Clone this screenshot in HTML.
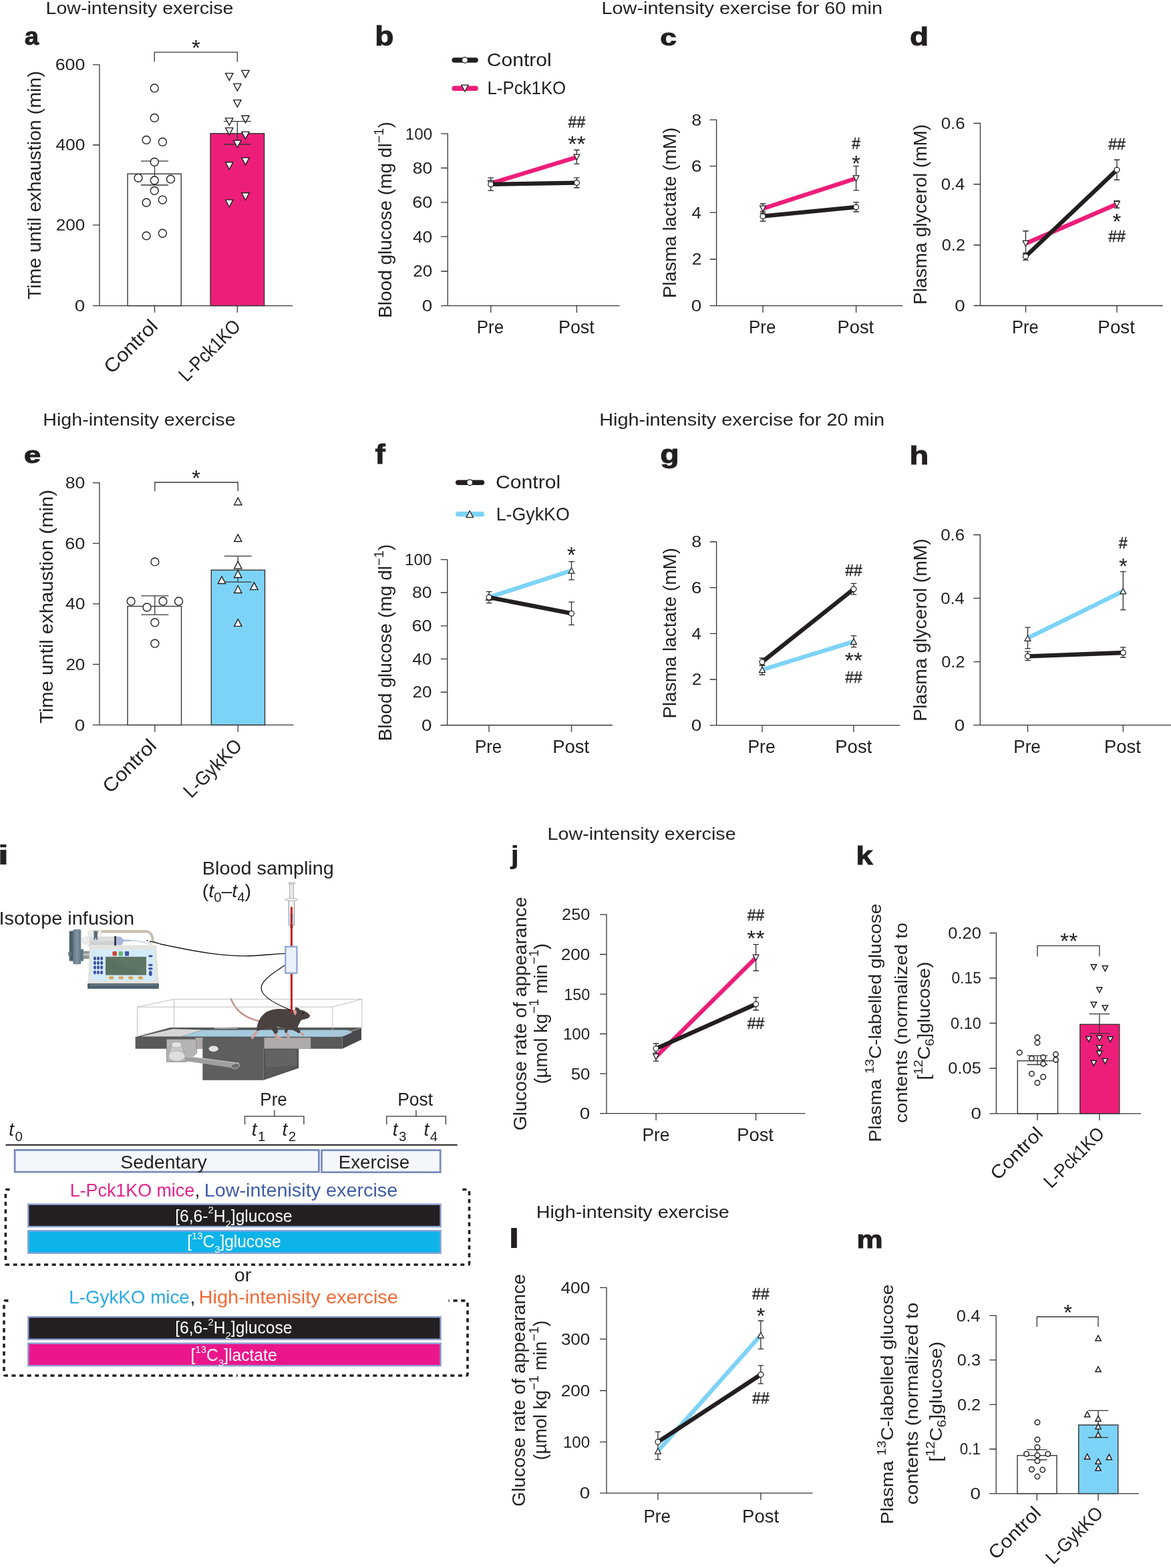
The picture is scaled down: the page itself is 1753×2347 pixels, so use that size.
<!DOCTYPE html>
<html lang="en"><head><meta charset="utf-8"><title>Figure</title>
<style>
html,body{margin:0;padding:0;background:#fff}
svg{display:block}
text{font-family:"Liberation Sans",sans-serif}
</style></head><body>
<svg width="1753" height="2347" viewBox="0 0 1753 2347">
<rect width="1753" height="2347" fill="#fff"/>
<g fill="#231f20">
<text x="68.5" y="21" font-size="25.3" textLength="281" lengthAdjust="spacingAndGlyphs">Low-intensity exercise</text>
<text x="900.5" y="20.5" font-size="25.3" textLength="420.5" lengthAdjust="spacingAndGlyphs">Low-intensity exercise for 60 min</text>
<text x="64.2" y="637" font-size="25.3" textLength="288.4" lengthAdjust="spacingAndGlyphs">High-intensity exercise</text>
<text x="897.2" y="637.3" font-size="25.3" textLength="427" lengthAdjust="spacingAndGlyphs">High-intensity exercise for 20 min</text>
<text x="819.6" y="1257" font-size="25.3" textLength="282" lengthAdjust="spacingAndGlyphs">Low-intensity exercise</text>
<text x="802.7" y="1823.3" font-size="25.3" textLength="289" lengthAdjust="spacingAndGlyphs">High-intensity exercise</text>
<text x="36.66" y="67.43" font-size="37.08" textLength="21.2" lengthAdjust="spacingAndGlyphs" font-weight="700" stroke="#231f20" stroke-width="1.0">a</text>
<text x="561.2" y="68.2" font-size="39.73" textLength="28.18" lengthAdjust="spacingAndGlyphs" font-weight="700" stroke="#231f20" stroke-width="1.0">b</text>
<text x="988.23" y="68.25" font-size="34.7" textLength="24.64" lengthAdjust="spacingAndGlyphs" font-weight="700" stroke="#231f20" stroke-width="1.0">c</text>
<text x="1361.91" y="67.82" font-size="38.37" textLength="28.12" lengthAdjust="spacingAndGlyphs" font-weight="700" stroke="#231f20" stroke-width="1.0">d</text>
<text x="35.99" y="693.46" font-size="34.34" textLength="25.13" lengthAdjust="spacingAndGlyphs" font-weight="700" stroke="#231f20" stroke-width="1.0">e</text>
<text x="561.6" y="694.2" font-size="39.86" textLength="15.21" lengthAdjust="spacingAndGlyphs" font-weight="700" stroke="#231f20" stroke-width="1.0">f</text>
<text x="988.15" y="693.43" font-size="38.93" textLength="28.31" lengthAdjust="spacingAndGlyphs" font-weight="700" stroke="#231f20" stroke-width="1.0">g</text>
<text x="1361.5" y="694.5" font-size="39.59" textLength="28.76" lengthAdjust="spacingAndGlyphs" font-weight="700" stroke="#231f20" stroke-width="1.0">h</text>
<text x="-4.33" y="1294.1" font-size="41.24" textLength="18.39" lengthAdjust="spacingAndGlyphs" font-weight="700">i</text>
<text x="764.3" y="1292.83" font-size="39.36" textLength="12.99" lengthAdjust="spacingAndGlyphs" font-weight="700">j</text>
<text x="1281.63" y="1293.9" font-size="39.31" textLength="25.21" lengthAdjust="spacingAndGlyphs" font-weight="700" stroke="#231f20" stroke-width="1.0">k</text>
<text x="760.67" y="1868.4" font-size="40.55" textLength="17.58" lengthAdjust="spacingAndGlyphs" font-weight="700">l</text>
<text x="1282.54" y="1868.1" font-size="36.65" textLength="39.18" lengthAdjust="spacingAndGlyphs" font-weight="700" stroke="#231f20" stroke-width="1.0">m</text>
<path d="M148.9 96.25V457.6M138.9 457.6H438M138.9 96.9H148.9M138.9 217H148.9M138.9 336.9H148.9M231.5 457.6V467.9M355.3 457.6V467.9" fill="none" stroke="#353535" stroke-width="1.3"/>
<text x="127.33" y="105.39" font-size="24.6" text-anchor="end" textLength="44.67" lengthAdjust="spacingAndGlyphs">600</text>
<text x="127.31" y="225.49" font-size="24.6" text-anchor="end" textLength="43.91" lengthAdjust="spacingAndGlyphs">400</text>
<text x="127.3" y="345.39" font-size="24.6" text-anchor="end" textLength="43.51" lengthAdjust="spacingAndGlyphs">200</text>
<text x="127.38" y="466.09" font-size="24.6" text-anchor="end" textLength="15.49" lengthAdjust="spacingAndGlyphs">0</text>
<rect x="191" y="260.3" width="80.2" height="197.3" fill="#fff" stroke="#353535" stroke-width="1.4"/>
<rect x="315" y="199.8" width="80.6" height="257.8" fill="#ed1e79" stroke="#353535" stroke-width="1.4"/>
<path d="M211 241.2H252M211 277H252M231.5 241.2V277" fill="none" stroke="#353535" stroke-width="1.3"/>
<path d="M334.8 181.6H375.8M334.8 216H375.8M355.3 181.6V216" fill="none" stroke="#353535" stroke-width="1.3"/>
<circle cx="231.23" cy="131.96" r="5.95" fill="#fff" stroke="#231f20" stroke-width="1.4"/>
<circle cx="231.23" cy="176.45" r="5.95" fill="#fff" stroke="#231f20" stroke-width="1.4"/>
<circle cx="219.13" cy="209.44" r="5.95" fill="#fff" stroke="#231f20" stroke-width="1.4"/>
<circle cx="243.34" cy="212.47" r="5.95" fill="#fff" stroke="#231f20" stroke-width="1.4"/>
<circle cx="231.23" cy="242.43" r="5.95" fill="#fff" stroke="#231f20" stroke-width="1.4"/>
<circle cx="207.02" cy="266.34" r="5.95" fill="#fff" stroke="#231f20" stroke-width="1.4"/>
<circle cx="231.23" cy="269.98" r="5.95" fill="#fff" stroke="#231f20" stroke-width="1.4"/>
<circle cx="255.45" cy="268.16" r="5.95" fill="#fff" stroke="#231f20" stroke-width="1.4"/>
<circle cx="231.23" cy="285.41" r="5.95" fill="#fff" stroke="#231f20" stroke-width="1.4"/>
<circle cx="219.13" cy="303.27" r="5.95" fill="#fff" stroke="#231f20" stroke-width="1.4"/>
<circle cx="243.34" cy="299.03" r="5.95" fill="#fff" stroke="#231f20" stroke-width="1.4"/>
<circle cx="219.13" cy="352.91" r="5.95" fill="#fff" stroke="#231f20" stroke-width="1.4"/>
<circle cx="243.34" cy="349.27" r="5.95" fill="#fff" stroke="#231f20" stroke-width="1.4"/>
<polygon points="337.57,109.64 348.87,109.64 343.22,120.38" fill="#fff" stroke="#231f20" stroke-width="1.4" stroke-linejoin="miter"/>
<polygon points="361.78,105.41 373.08,105.41 367.43,116.14" fill="#fff" stroke="#231f20" stroke-width="1.4" stroke-linejoin="miter"/>
<polygon points="349.68,125.38 360.98,125.38 355.33,136.12" fill="#fff" stroke="#231f20" stroke-width="1.4" stroke-linejoin="miter"/>
<polygon points="349.68,149.6 360.98,149.6 355.33,160.33" fill="#fff" stroke="#231f20" stroke-width="1.4" stroke-linejoin="miter"/>
<polygon points="337.57,176.84 348.87,176.84 343.22,187.57" fill="#fff" stroke="#231f20" stroke-width="1.4" stroke-linejoin="miter"/>
<polygon points="361.78,173.2 373.08,173.2 367.43,183.94" fill="#fff" stroke="#231f20" stroke-width="1.4" stroke-linejoin="miter"/>
<polygon points="337.57,191.36 348.87,191.36 343.22,202.1" fill="#fff" stroke="#231f20" stroke-width="1.4" stroke-linejoin="miter"/>
<polygon points="361.78,197.42 373.08,197.42 367.43,208.15" fill="#fff" stroke="#231f20" stroke-width="1.4" stroke-linejoin="miter"/>
<polygon points="349.68,210.13 360.98,210.13 355.33,220.86" fill="#fff" stroke="#231f20" stroke-width="1.4" stroke-linejoin="miter"/>
<polygon points="337.57,242.82 348.87,242.82 343.22,253.55" fill="#fff" stroke="#231f20" stroke-width="1.4" stroke-linejoin="miter"/>
<polygon points="361.78,236.16 373.08,236.16 367.43,246.89" fill="#fff" stroke="#231f20" stroke-width="1.4" stroke-linejoin="miter"/>
<polygon points="337.57,299.11 348.87,299.11 343.22,309.85" fill="#fff" stroke="#231f20" stroke-width="1.4" stroke-linejoin="miter"/>
<polygon points="361.78,288.82 373.08,288.82 367.43,299.56" fill="#fff" stroke="#231f20" stroke-width="1.4" stroke-linejoin="miter"/>
<path d="M231.2 92.6V78.1H355.3V92.6" fill="none" stroke="#353535" stroke-width="1.3"/>
<text x="293.5" y="83.21" font-size="33" text-anchor="middle">*</text>
<text font-size="27.4" text-anchor="middle" textLength="342" lengthAdjust="spacingAndGlyphs" transform="translate(61.2 277.3) rotate(-90)">Time until exhaustion (min)</text>
<text font-size="29" text-anchor="end" textLength="100" lengthAdjust="spacingAndGlyphs" transform="translate(238 490) rotate(-45)">Control</text>
<text font-size="29" text-anchor="end" textLength="117" lengthAdjust="spacingAndGlyphs" transform="translate(362 490) rotate(-45)">L-Pck1KO</text>
<path d="M148.9 721.95V1085.2M138.9 1085.2H439.5M138.9 722.6H148.9M138.9 813.4H148.9M138.9 903.9H148.9M138.9 994.4H148.9M231.8 1085.2V1095.5M356.2 1085.2V1095.5" fill="none" stroke="#353535" stroke-width="1.3"/>
<text x="127.36" y="731.09" font-size="24.6" text-anchor="end" textLength="29.48" lengthAdjust="spacingAndGlyphs">80</text>
<text x="127.38" y="821.89" font-size="24.6" text-anchor="end" textLength="30.13" lengthAdjust="spacingAndGlyphs">60</text>
<text x="127.35" y="912.39" font-size="24.6" text-anchor="end" textLength="29.34" lengthAdjust="spacingAndGlyphs">40</text>
<text x="127.34" y="1002.89" font-size="24.6" text-anchor="end" textLength="28.94" lengthAdjust="spacingAndGlyphs">20</text>
<text x="127.38" y="1093.69" font-size="24.6" text-anchor="end" textLength="15.49" lengthAdjust="spacingAndGlyphs">0</text>
<rect x="191" y="907.5" width="80.5" height="177.7" fill="#fff" stroke="#353535" stroke-width="1.4"/>
<rect x="316.3" y="853.3" width="80.2" height="231.9" fill="#7dd3f7" stroke="#353535" stroke-width="1.4"/>
<path d="M211.3 891.8H252.3M211.3 920.2H252.3M231.8 891.8V920.2" fill="none" stroke="#353535" stroke-width="1.3"/>
<path d="M335.7 832.4H376.7M335.7 871.2H376.7M356.2 832.4V871.2" fill="none" stroke="#353535" stroke-width="1.3"/>
<circle cx="231.84" cy="840.92" r="5.95" fill="#fff" stroke="#231f20" stroke-width="1.4"/>
<circle cx="196.13" cy="899.94" r="5.95" fill="#fff" stroke="#231f20" stroke-width="1.4"/>
<circle cx="243.95" cy="899.94" r="5.95" fill="#fff" stroke="#231f20" stroke-width="1.4"/>
<circle cx="267.55" cy="899.94" r="5.95" fill="#fff" stroke="#231f20" stroke-width="1.4"/>
<circle cx="220.04" cy="909.02" r="5.95" fill="#fff" stroke="#231f20" stroke-width="1.4"/>
<circle cx="231.84" cy="931.72" r="5.95" fill="#fff" stroke="#231f20" stroke-width="1.4"/>
<circle cx="231.84" cy="963.2" r="5.95" fill="#fff" stroke="#231f20" stroke-width="1.4"/>
<polygon points="350.58,755.79 361.88,755.79 356.23,745.06" fill="#fff" stroke="#231f20" stroke-width="1.4" stroke-linejoin="miter"/>
<polygon points="350.58,810.57 361.88,810.57 356.23,799.84" fill="#fff" stroke="#231f20" stroke-width="1.4" stroke-linejoin="miter"/>
<polygon points="350.58,851.13 361.88,851.13 356.23,840.4" fill="#fff" stroke="#231f20" stroke-width="1.4" stroke-linejoin="miter"/>
<polygon points="350.58,864.45 361.88,864.45 356.23,853.71" fill="#fff" stroke="#231f20" stroke-width="1.4" stroke-linejoin="miter"/>
<polygon points="326.37,873.53 337.67,873.53 332.02,862.79" fill="#fff" stroke="#231f20" stroke-width="1.4" stroke-linejoin="miter"/>
<polygon points="374.8,882.61 386.1,882.61 380.45,871.87" fill="#fff" stroke="#231f20" stroke-width="1.4" stroke-linejoin="miter"/>
<polygon points="350.58,887.45 361.88,887.45 356.23,876.71" fill="#fff" stroke="#231f20" stroke-width="1.4" stroke-linejoin="miter"/>
<polygon points="350.58,937.39 361.88,937.39 356.23,926.65" fill="#fff" stroke="#231f20" stroke-width="1.4" stroke-linejoin="miter"/>
<path d="M231.8 735.3V722H356.2V735.3" fill="none" stroke="#353535" stroke-width="1.3"/>
<text x="293.6" y="727.41" font-size="33" text-anchor="middle">*</text>
<text font-size="27.4" text-anchor="middle" textLength="350" lengthAdjust="spacingAndGlyphs" transform="translate(78.5 908) rotate(-90)">Time until exhaustion (min)</text>
<text font-size="29" text-anchor="end" textLength="100" lengthAdjust="spacingAndGlyphs" transform="translate(236 1118) rotate(-45)">Control</text>
<text font-size="29" text-anchor="end" textLength="110" lengthAdjust="spacingAndGlyphs" transform="translate(364 1118) rotate(-45)">L-GykKO</text>
<line x1="680.2" y1="90" x2="712" y2="90" stroke="#231f20" stroke-width="7.6" stroke-linecap="round"/>
<circle cx="695.9" cy="90" r="4.4" fill="#fff" stroke="#231f20" stroke-width="1.25"/>
<text x="728.7" y="98.7" font-size="28.3" textLength="97" lengthAdjust="spacingAndGlyphs">Control</text>
<line x1="680.2" y1="132.2" x2="712" y2="132.2" stroke="#ed1e79" stroke-width="7.6" stroke-linecap="round"/>
<polygon points="690.75,127.31 701.05,127.31 695.9,137.09" fill="#fff" stroke="#231f20" stroke-width="1.25" stroke-linejoin="miter"/>
<text x="729.5" y="140.6" font-size="28.3" textLength="117.7" lengthAdjust="spacingAndGlyphs">L-Pck1KO</text>
<line x1="685.8" y1="722.2" x2="721.4" y2="722.2" stroke="#231f20" stroke-width="7.6" stroke-linecap="round"/>
<circle cx="703.2" cy="722.2" r="4.4" fill="#fff" stroke="#231f20" stroke-width="1.25"/>
<text x="741.9" y="731.1" font-size="28.3" textLength="97.4" lengthAdjust="spacingAndGlyphs">Control</text>
<line x1="685.8" y1="769.5" x2="721.4" y2="769.5" stroke="#7dd3f7" stroke-width="7.6" stroke-linecap="round"/>
<polygon points="698.05,774.39 708.35,774.39 703.2,764.61" fill="#fff" stroke="#231f20" stroke-width="1.25" stroke-linejoin="miter"/>
<text x="742.7" y="778.9" font-size="28.3" textLength="110.1" lengthAdjust="spacingAndGlyphs">L-GykKO</text>
<path d="M670.2 199.45V457.7M660.2 457.7H927.7M660.2 200.1H670.2M660.2 251.5H670.2M660.2 302.8H670.2M660.2 354.2H670.2M660.2 406H670.2M734.8 457.7V468M863.4 457.7V468" fill="none" stroke="#353535" stroke-width="1.3"/>
<text x="647.13" y="208.59" font-size="24.6" text-anchor="end" textLength="40.34" lengthAdjust="spacingAndGlyphs">100</text>
<text x="647.26" y="259.99" font-size="24.6" text-anchor="end" textLength="29.48" lengthAdjust="spacingAndGlyphs">80</text>
<text x="647.28" y="311.29" font-size="24.6" text-anchor="end" textLength="30.13" lengthAdjust="spacingAndGlyphs">60</text>
<text x="647.25" y="362.69" font-size="24.6" text-anchor="end" textLength="29.34" lengthAdjust="spacingAndGlyphs">40</text>
<text x="647.24" y="414.49" font-size="24.6" text-anchor="end" textLength="28.94" lengthAdjust="spacingAndGlyphs">20</text>
<text x="647.28" y="466.19" font-size="24.6" text-anchor="end" textLength="15.49" lengthAdjust="spacingAndGlyphs">0</text>
<path d="M730.55 266.2H739.05M730.55 285.3H739.05M734.8 266.2V285.3" fill="none" stroke="#2b2b2b" stroke-width="1.3"/>
<path d="M859.15 266.2H867.65M859.15 281H867.65M863.4 266.2V281" fill="none" stroke="#2b2b2b" stroke-width="1.3"/>
<path d="M859.15 224.5H867.65M859.15 245.4H867.65M863.4 224.5V245.4" fill="none" stroke="#2b2b2b" stroke-width="1.3"/>
<line x1="734.8" y1="274.6" x2="863.4" y2="235.2" stroke="#ed1e79" stroke-width="6.3"/>
<line x1="734.8" y1="275.9" x2="863.4" y2="273.6" stroke="#231f20" stroke-width="6.3"/>
<polygon points="730.4,270.42 739.2,270.42 734.8,278.78" fill="#fff" stroke="#231f20" stroke-width="1.25" stroke-linejoin="miter"/>
<polygon points="859,231.02 867.8,231.02 863.4,239.38" fill="#fff" stroke="#231f20" stroke-width="1.25" stroke-linejoin="miter"/>
<circle cx="734.8" cy="275.9" r="3.95" fill="#fff" stroke="#231f20" stroke-width="1.25"/>
<circle cx="863.4" cy="273.6" r="3.95" fill="#fff" stroke="#231f20" stroke-width="1.25"/>
<text x="863.4" y="191" font-size="23.4" text-anchor="middle" textLength="25.6" lengthAdjust="spacingAndGlyphs" stroke="#231f20" stroke-width="0.35">##</text>
<text x="863.4" y="227.11" font-size="33" text-anchor="middle" textLength="26.44" lengthAdjust="spacingAndGlyphs">**</text>
<text x="713.71" y="499" font-size="27.6" textLength="40.55" lengthAdjust="spacingAndGlyphs">Pre</text>
<text x="835.94" y="499" font-size="27.6" textLength="53.82" lengthAdjust="spacingAndGlyphs">Post</text>
<text font-size="27.4" text-anchor="middle" textLength="293.7" lengthAdjust="spacingAndGlyphs" transform="translate(586 329.1) rotate(-90)">Blood glucose (mg dl<tspan font-size="19.5" dy="-12.3">−1</tspan><tspan dy="12.3">)</tspan></text>
<path d="M1072.6 178.65V457.7M1062.6 457.7H1351M1062.6 179.3H1072.6M1062.6 248.7H1072.6M1062.6 318.1H1072.6M1062.6 388H1072.6M1142 457.7V468M1281.6 457.7V468" fill="none" stroke="#353535" stroke-width="1.3"/>
<text x="1050.38" y="187.79" font-size="24.6" text-anchor="end" textLength="15.03" lengthAdjust="spacingAndGlyphs">8</text>
<text x="1050.44" y="257.19" font-size="24.6" text-anchor="end" textLength="15.75" lengthAdjust="spacingAndGlyphs">6</text>
<text x="1049.94" y="326.59" font-size="24.6" text-anchor="end" textLength="14.43" lengthAdjust="spacingAndGlyphs">4</text>
<text x="1050.55" y="396.49" font-size="24.6" text-anchor="end" textLength="14.67" lengthAdjust="spacingAndGlyphs">2</text>
<text x="1050.28" y="466.19" font-size="24.6" text-anchor="end" textLength="15.49" lengthAdjust="spacingAndGlyphs">0</text>
<path d="M1277.35 248.7H1285.85M1277.35 284.8H1285.85M1281.6 248.7V284.8" fill="none" stroke="#2b2b2b" stroke-width="1.3"/>
<path d="M1277.35 302.6H1285.85M1277.35 317H1285.85M1281.6 302.6V317" fill="none" stroke="#2b2b2b" stroke-width="1.3"/>
<path d="M1137.75 316.5H1146.25M1137.75 331H1146.25M1142 316.5V331" fill="none" stroke="#2b2b2b" stroke-width="1.3"/>
<path d="M1137.75 305H1146.25M1137.75 319H1146.25M1142 305V319" fill="none" stroke="#2b2b2b" stroke-width="1.3"/>
<line x1="1142" y1="312.2" x2="1281.6" y2="267" stroke="#ed1e79" stroke-width="6.3"/>
<line x1="1142" y1="323.7" x2="1281.6" y2="310" stroke="#231f20" stroke-width="6.3"/>
<polygon points="1137.6,308.02 1146.4,308.02 1142,316.38" fill="#fff" stroke="#231f20" stroke-width="1.25" stroke-linejoin="miter"/>
<polygon points="1277.2,262.82 1286,262.82 1281.6,271.18" fill="#fff" stroke="#231f20" stroke-width="1.25" stroke-linejoin="miter"/>
<circle cx="1142" cy="323.7" r="3.95" fill="#fff" stroke="#231f20" stroke-width="1.25"/>
<circle cx="1281.6" cy="310" r="3.95" fill="#fff" stroke="#231f20" stroke-width="1.25"/>
<text x="1281.6" y="222.8" font-size="23.4" text-anchor="middle" stroke="#231f20" stroke-width="0.35">#</text>
<text x="1281.6" y="255.91" font-size="33" text-anchor="middle">*</text>
<text x="1120.91" y="499" font-size="27.6" textLength="40.44" lengthAdjust="spacingAndGlyphs">Pre</text>
<text x="1253.51" y="499" font-size="27.6" textLength="54.65" lengthAdjust="spacingAndGlyphs">Post</text>
<text font-size="27.4" text-anchor="middle" textLength="255.5" lengthAdjust="spacingAndGlyphs" transform="translate(1011.5 318.5) rotate(-90)">Plasma lactate (mM)</text>
<path d="M1467.5 183.85V457.5M1457.5 457.5H1740.8M1457.5 184.5H1467.5M1457.5 275.75H1467.5M1457.5 366.75H1467.5M1535.5 457.5V467.8M1672 457.5V467.8" fill="none" stroke="#353535" stroke-width="1.3"/>
<text x="1444.81" y="192.99" font-size="24.6" text-anchor="end" textLength="36.15" lengthAdjust="spacingAndGlyphs">0.6</text>
<text x="1444.41" y="284.24" font-size="24.6" text-anchor="end" textLength="35.74" lengthAdjust="spacingAndGlyphs">0.4</text>
<text x="1444.97" y="375.24" font-size="24.6" text-anchor="end" textLength="35.18" lengthAdjust="spacingAndGlyphs">0.2</text>
<text x="1444.78" y="465.99" font-size="24.6" text-anchor="end" textLength="15.49" lengthAdjust="spacingAndGlyphs">0</text>
<path d="M1667.75 239.25H1676.25M1667.75 269.25H1676.25M1672 239.25V269.25" fill="none" stroke="#2b2b2b" stroke-width="1.3"/>
<path d="M1531.25 345.75H1539.75M1531.25 380H1539.75M1535.5 345.75V380" fill="none" stroke="#2b2b2b" stroke-width="1.3"/>
<path d="M1667.75 300.75H1676.25M1667.75 311.25H1676.25M1672 300.75V311.25" fill="none" stroke="#2b2b2b" stroke-width="1.3"/>
<path d="M1531.25 378.75H1539.75M1531.25 389.25H1539.75M1535.5 378.75V389.25" fill="none" stroke="#2b2b2b" stroke-width="1.3"/>
<line x1="1535.5" y1="364.5" x2="1672" y2="305.5" stroke="#ed1e79" stroke-width="6.3"/>
<line x1="1535.5" y1="383.75" x2="1672" y2="254.25" stroke="#231f20" stroke-width="6.3"/>
<polygon points="1531.1,360.32 1539.9,360.32 1535.5,368.68" fill="#fff" stroke="#231f20" stroke-width="1.25" stroke-linejoin="miter"/>
<polygon points="1667.6,301.32 1676.4,301.32 1672,309.68" fill="#fff" stroke="#231f20" stroke-width="1.25" stroke-linejoin="miter"/>
<circle cx="1535.5" cy="383.75" r="3.95" fill="#fff" stroke="#231f20" stroke-width="1.25"/>
<circle cx="1672" cy="254.25" r="3.95" fill="#fff" stroke="#231f20" stroke-width="1.25"/>
<text x="1672" y="224.25" font-size="23.4" text-anchor="middle" textLength="25.6" lengthAdjust="spacingAndGlyphs" stroke="#231f20" stroke-width="0.35">##</text>
<text x="1672" y="343.16" font-size="33" text-anchor="middle">*</text>
<text x="1672" y="361.75" font-size="23.4" text-anchor="middle" textLength="25.6" lengthAdjust="spacingAndGlyphs" stroke="#231f20" stroke-width="0.35">##</text>
<text x="1515.05" y="498.75" font-size="27.6" textLength="39.71" lengthAdjust="spacingAndGlyphs">Pre</text>
<text x="1643.37" y="498.75" font-size="27.6" textLength="55.65" lengthAdjust="spacingAndGlyphs">Post</text>
<text font-size="27.4" text-anchor="middle" textLength="270" lengthAdjust="spacingAndGlyphs" transform="translate(1387 321) rotate(-90)">Plasma glycerol (mM)</text>
<path d="M669.7 836.95V1085.5M659.7 1085.5H917M659.7 837.6H669.7M659.7 887H669.7M659.7 936.8H669.7M659.7 986.4H669.7M659.7 1036H669.7M732 1085.5V1095.8M855.5 1085.5V1095.8" fill="none" stroke="#353535" stroke-width="1.3"/>
<text x="646.43" y="846.09" font-size="24.6" text-anchor="end" textLength="40.34" lengthAdjust="spacingAndGlyphs">100</text>
<text x="646.56" y="895.49" font-size="24.6" text-anchor="end" textLength="29.48" lengthAdjust="spacingAndGlyphs">80</text>
<text x="646.58" y="945.29" font-size="24.6" text-anchor="end" textLength="30.13" lengthAdjust="spacingAndGlyphs">60</text>
<text x="646.55" y="994.89" font-size="24.6" text-anchor="end" textLength="29.34" lengthAdjust="spacingAndGlyphs">40</text>
<text x="646.54" y="1044.49" font-size="24.6" text-anchor="end" textLength="28.94" lengthAdjust="spacingAndGlyphs">20</text>
<text x="646.58" y="1093.99" font-size="24.6" text-anchor="end" textLength="15.49" lengthAdjust="spacingAndGlyphs">0</text>
<path d="M727.75 885.7H736.25M727.75 902.7H736.25M732 885.7V902.7" fill="none" stroke="#2b2b2b" stroke-width="1.3"/>
<path d="M851.25 901.2H859.75M851.25 935.3H859.75M855.5 901.2V935.3" fill="none" stroke="#2b2b2b" stroke-width="1.3"/>
<path d="M851.25 840.7H859.75M851.25 867.9H859.75M855.5 840.7V867.9" fill="none" stroke="#2b2b2b" stroke-width="1.3"/>
<line x1="732" y1="894.1" x2="855.5" y2="853.9" stroke="#7dd3f7" stroke-width="6.3"/>
<line x1="732" y1="894.1" x2="855.5" y2="918.2" stroke="#231f20" stroke-width="6.3"/>
<polygon points="727.6,898.28 736.4,898.28 732,889.92" fill="#fff" stroke="#231f20" stroke-width="1.25" stroke-linejoin="miter"/>
<polygon points="851.1,858.08 859.9,858.08 855.5,849.72" fill="#fff" stroke="#231f20" stroke-width="1.25" stroke-linejoin="miter"/>
<circle cx="732" cy="894.1" r="3.95" fill="#fff" stroke="#231f20" stroke-width="1.25"/>
<circle cx="855.5" cy="918.2" r="3.95" fill="#fff" stroke="#231f20" stroke-width="1.25"/>
<text x="855.5" y="842.31" font-size="33" text-anchor="middle">*</text>
<text x="710.92" y="1127.2" font-size="27.6" textLength="40.34" lengthAdjust="spacingAndGlyphs">Pre</text>
<text x="827.19" y="1127.2" font-size="27.6" textLength="55.07" lengthAdjust="spacingAndGlyphs">Post</text>
<text font-size="27.4" text-anchor="middle" textLength="294.5" lengthAdjust="spacingAndGlyphs" transform="translate(586 962) rotate(-90)">Blood glucose (mg dl<tspan font-size="19.5" dy="-12.3">−1</tspan><tspan dy="12.3">)</tspan></text>
<path d="M1072.6 810.35V1085.6M1062.6 1085.6H1347M1062.6 811H1072.6M1062.6 879.7H1072.6M1062.6 948.3H1072.6M1062.6 1017H1072.6M1141 1085.6V1095.9M1278 1085.6V1095.9" fill="none" stroke="#353535" stroke-width="1.3"/>
<text x="1050.38" y="819.49" font-size="24.6" text-anchor="end" textLength="15.03" lengthAdjust="spacingAndGlyphs">8</text>
<text x="1050.44" y="888.19" font-size="24.6" text-anchor="end" textLength="15.75" lengthAdjust="spacingAndGlyphs">6</text>
<text x="1049.94" y="956.79" font-size="24.6" text-anchor="end" textLength="14.43" lengthAdjust="spacingAndGlyphs">4</text>
<text x="1050.55" y="1025.49" font-size="24.6" text-anchor="end" textLength="14.67" lengthAdjust="spacingAndGlyphs">2</text>
<text x="1050.28" y="1094.09" font-size="24.6" text-anchor="end" textLength="15.49" lengthAdjust="spacingAndGlyphs">0</text>
<path d="M1273.75 873.3H1282.25M1273.75 889.9H1282.25M1278 873.3V889.9" fill="none" stroke="#2b2b2b" stroke-width="1.3"/>
<path d="M1273.75 951.6H1282.25M1273.75 968.7H1282.25M1278 951.6V968.7" fill="none" stroke="#2b2b2b" stroke-width="1.3"/>
<path d="M1136.75 995.4H1145.25M1136.75 1010H1145.25M1141 995.4V1010" fill="none" stroke="#2b2b2b" stroke-width="1.3"/>
<path d="M1136.75 985H1145.25M1136.75 996H1145.25M1141 985V996" fill="none" stroke="#2b2b2b" stroke-width="1.3"/>
<line x1="1141" y1="1002.5" x2="1278" y2="960.3" stroke="#7dd3f7" stroke-width="6.3"/>
<line x1="1141" y1="990.8" x2="1278" y2="881.7" stroke="#231f20" stroke-width="6.3"/>
<polygon points="1136.6,1006.68 1145.4,1006.68 1141,998.32" fill="#fff" stroke="#231f20" stroke-width="1.25" stroke-linejoin="miter"/>
<polygon points="1273.6,964.48 1282.4,964.48 1278,956.12" fill="#fff" stroke="#231f20" stroke-width="1.25" stroke-linejoin="miter"/>
<circle cx="1141" cy="990.8" r="3.95" fill="#fff" stroke="#231f20" stroke-width="1.25"/>
<circle cx="1278" cy="881.7" r="3.95" fill="#fff" stroke="#231f20" stroke-width="1.25"/>
<text x="1278" y="862.3" font-size="23.4" text-anchor="middle" textLength="25.6" lengthAdjust="spacingAndGlyphs" stroke="#231f20" stroke-width="0.35">##</text>
<text x="1278" y="999.61" font-size="33" text-anchor="middle" textLength="26.44" lengthAdjust="spacingAndGlyphs">**</text>
<text x="1278" y="1022" font-size="23.4" text-anchor="middle" textLength="25.6" lengthAdjust="spacingAndGlyphs" stroke="#231f20" stroke-width="0.35">##</text>
<text x="1119.47" y="1127" font-size="27.6" textLength="41.17" lengthAdjust="spacingAndGlyphs">Pre</text>
<text x="1250.3" y="1127" font-size="27.6" textLength="54.97" lengthAdjust="spacingAndGlyphs">Post</text>
<text font-size="27.4" text-anchor="middle" textLength="255.5" lengthAdjust="spacingAndGlyphs" transform="translate(1011.5 947.8) rotate(-90)">Plasma lactate (mM)</text>
<path d="M1467.3 799.85V1085.3M1457.3 1085.3H1753M1457.3 800.5H1467.3M1457.3 895.4H1467.3M1457.3 990.6H1467.3M1538.5 1085.3V1095.6M1681.3 1085.3V1095.6" fill="none" stroke="#353535" stroke-width="1.3"/>
<text x="1444.31" y="808.99" font-size="24.6" text-anchor="end" textLength="36.15" lengthAdjust="spacingAndGlyphs">0.6</text>
<text x="1443.91" y="903.89" font-size="24.6" text-anchor="end" textLength="35.74" lengthAdjust="spacingAndGlyphs">0.4</text>
<text x="1444.47" y="999.09" font-size="24.6" text-anchor="end" textLength="35.18" lengthAdjust="spacingAndGlyphs">0.2</text>
<text x="1444.28" y="1093.79" font-size="24.6" text-anchor="end" textLength="15.49" lengthAdjust="spacingAndGlyphs">0</text>
<path d="M1677.05 855.7H1685.55M1677.05 912.9H1685.55M1681.3 855.7V912.9" fill="none" stroke="#2b2b2b" stroke-width="1.3"/>
<path d="M1534.25 939.2H1542.75M1534.25 970.9H1542.75M1538.5 939.2V970.9" fill="none" stroke="#2b2b2b" stroke-width="1.3"/>
<path d="M1534.25 975.4H1542.75M1534.25 988.6H1542.75M1538.5 975.4V988.6" fill="none" stroke="#2b2b2b" stroke-width="1.3"/>
<path d="M1677.05 968.9H1685.55M1677.05 984H1685.55M1681.3 968.9V984" fill="none" stroke="#2b2b2b" stroke-width="1.3"/>
<line x1="1538.5" y1="955.2" x2="1681.3" y2="884.8" stroke="#7dd3f7" stroke-width="6.3"/>
<line x1="1538.5" y1="982.3" x2="1681.3" y2="977" stroke="#231f20" stroke-width="6.3"/>
<polygon points="1534.1,959.38 1542.9,959.38 1538.5,951.02" fill="#fff" stroke="#231f20" stroke-width="1.25" stroke-linejoin="miter"/>
<polygon points="1676.9,888.98 1685.7,888.98 1681.3,880.62" fill="#fff" stroke="#231f20" stroke-width="1.25" stroke-linejoin="miter"/>
<circle cx="1538.5" cy="982.3" r="3.95" fill="#fff" stroke="#231f20" stroke-width="1.25"/>
<circle cx="1681.3" cy="977" r="3.95" fill="#fff" stroke="#231f20" stroke-width="1.25"/>
<text x="1681.3" y="820.7" font-size="23.4" text-anchor="middle" stroke="#231f20" stroke-width="0.35">#</text>
<text x="1681.3" y="858.71" font-size="33" text-anchor="middle">*</text>
<text x="1517.19" y="1126.6" font-size="27.6" textLength="40.75" lengthAdjust="spacingAndGlyphs">Pre</text>
<text x="1653.1" y="1126.6" font-size="27.6" textLength="54.76" lengthAdjust="spacingAndGlyphs">Post</text>
<text font-size="27.4" text-anchor="middle" textLength="273.4" lengthAdjust="spacingAndGlyphs" transform="translate(1387 943) rotate(-90)">Plasma glycerol (mM)</text>
<path d="M908 1368.25V1666.7M898 1666.7H1205.5M898 1368.9H908M898 1428.5H908M898 1488.2H908M898 1547.5H908M898 1607.1H908M982.1 1666.7V1677M1131.6 1666.7V1677" fill="none" stroke="#353535" stroke-width="1.3"/>
<text x="883.27" y="1377.39" font-size="24.6" text-anchor="end" textLength="42.14" lengthAdjust="spacingAndGlyphs">250</text>
<text x="883.3" y="1436.99" font-size="24.6" text-anchor="end" textLength="43.51" lengthAdjust="spacingAndGlyphs">200</text>
<text x="883.2" y="1496.69" font-size="24.6" text-anchor="end" textLength="38.95" lengthAdjust="spacingAndGlyphs">150</text>
<text x="883.23" y="1555.99" font-size="24.6" text-anchor="end" textLength="40.34" lengthAdjust="spacingAndGlyphs">100</text>
<text x="883.33" y="1615.59" font-size="24.6" text-anchor="end" textLength="28.66" lengthAdjust="spacingAndGlyphs">50</text>
<text x="883.38" y="1675.19" font-size="24.6" text-anchor="end" textLength="15.49" lengthAdjust="spacingAndGlyphs">0</text>
<path d="M1127.35 1413.7H1135.85M1127.35 1453H1135.85M1131.6 1413.7V1453" fill="none" stroke="#2b2b2b" stroke-width="1.3"/>
<path d="M1127.35 1493H1135.85M1127.35 1512H1135.85M1131.6 1493V1512" fill="none" stroke="#2b2b2b" stroke-width="1.3"/>
<path d="M977.85 1562H986.35M977.85 1575.6H986.35M982.1 1562V1575.6" fill="none" stroke="#2b2b2b" stroke-width="1.3"/>
<path d="M977.85 1575.6H986.35M977.85 1588.3H986.35M982.1 1575.6V1588.3" fill="none" stroke="#2b2b2b" stroke-width="1.3"/>
<line x1="982.1" y1="1581.7" x2="1131.6" y2="1433.4" stroke="#ed1e79" stroke-width="6.3"/>
<line x1="982.1" y1="1569.6" x2="1131.6" y2="1503" stroke="#231f20" stroke-width="6.3"/>
<polygon points="977.7,1577.52 986.5,1577.52 982.1,1585.88" fill="#fff" stroke="#231f20" stroke-width="1.25" stroke-linejoin="miter"/>
<polygon points="1127.2,1429.22 1136,1429.22 1131.6,1437.58" fill="#fff" stroke="#231f20" stroke-width="1.25" stroke-linejoin="miter"/>
<circle cx="982.1" cy="1569.6" r="3.95" fill="#fff" stroke="#231f20" stroke-width="1.25"/>
<circle cx="1131.6" cy="1503" r="3.95" fill="#fff" stroke="#231f20" stroke-width="1.25"/>
<text x="1131.6" y="1378.4" font-size="23.4" text-anchor="middle" textLength="25.6" lengthAdjust="spacingAndGlyphs" stroke="#231f20" stroke-width="0.35">##</text>
<text x="1131.6" y="1415.51" font-size="33" text-anchor="middle" textLength="26.44" lengthAdjust="spacingAndGlyphs">**</text>
<text x="1131.6" y="1539.7" font-size="23.4" text-anchor="middle" textLength="25.6" lengthAdjust="spacingAndGlyphs" stroke="#231f20" stroke-width="0.35">##</text>
<text x="961.38" y="1707.9" font-size="27.6" textLength="41.07" lengthAdjust="spacingAndGlyphs">Pre</text>
<text x="1103.2" y="1707.9" font-size="27.6" textLength="54.76" lengthAdjust="spacingAndGlyphs">Post</text>
<text font-size="27.4" text-anchor="middle" textLength="349.6" lengthAdjust="spacingAndGlyphs" transform="translate(787.5 1517.4) rotate(-90)">Glucose rate of appearance</text>
<text font-size="27.4" text-anchor="middle" textLength="210.3" lengthAdjust="spacingAndGlyphs" transform="translate(818.7 1517.4) rotate(-90)">(µmol kg<tspan font-size="19.5" dy="-12.3">−1</tspan><tspan dy="12.3"> min</tspan><tspan font-size="19.5" dy="-12.3">−1</tspan><tspan dy="12.3">)</tspan></text>
<path d="M908 1926.75V2234.9M898 2234.9H1216.7M898 1927.4H908M898 2004.3H908M898 2081.5H908M898 2158.3H908M984.9 2234.9V2245.2M1138.9 2234.9V2245.2" fill="none" stroke="#353535" stroke-width="1.3"/>
<text x="883.31" y="1935.89" font-size="24.6" text-anchor="end" textLength="43.91" lengthAdjust="spacingAndGlyphs">400</text>
<text x="883.3" y="2012.79" font-size="24.6" text-anchor="end" textLength="43.38" lengthAdjust="spacingAndGlyphs">300</text>
<text x="883.3" y="2089.99" font-size="24.6" text-anchor="end" textLength="43.51" lengthAdjust="spacingAndGlyphs">200</text>
<text x="883.23" y="2166.79" font-size="24.6" text-anchor="end" textLength="40.34" lengthAdjust="spacingAndGlyphs">100</text>
<text x="883.38" y="2243.39" font-size="24.6" text-anchor="end" textLength="15.49" lengthAdjust="spacingAndGlyphs">0</text>
<path d="M1134.65 1977H1143.15M1134.65 2019.1H1143.15M1138.9 1977V2019.1" fill="none" stroke="#2b2b2b" stroke-width="1.3"/>
<path d="M1134.65 2043.9H1143.15M1134.65 2071.2H1143.15M1138.9 2043.9V2071.2" fill="none" stroke="#2b2b2b" stroke-width="1.3"/>
<path d="M980.65 2143.2H989.15M980.65 2184.7H989.15M984.9 2143.2V2184.7" fill="none" stroke="#2b2b2b" stroke-width="1.3"/>
<line x1="984.9" y1="2172" x2="1138.9" y2="1998.5" stroke="#7dd3f7" stroke-width="6.3"/>
<line x1="984.9" y1="2158.3" x2="1138.9" y2="2057.5" stroke="#231f20" stroke-width="6.3"/>
<polygon points="980.5,2176.18 989.3,2176.18 984.9,2167.82" fill="#fff" stroke="#231f20" stroke-width="1.25" stroke-linejoin="miter"/>
<polygon points="1134.5,2002.68 1143.3,2002.68 1138.9,1994.32" fill="#fff" stroke="#231f20" stroke-width="1.25" stroke-linejoin="miter"/>
<circle cx="984.9" cy="2158.3" r="3.95" fill="#fff" stroke="#231f20" stroke-width="1.25"/>
<circle cx="1138.9" cy="2057.5" r="3.95" fill="#fff" stroke="#231f20" stroke-width="1.25"/>
<text x="1138.9" y="1944.8" font-size="23.4" text-anchor="middle" textLength="25.6" lengthAdjust="spacingAndGlyphs" stroke="#231f20" stroke-width="0.35">##</text>
<text x="1138.9" y="1980.91" font-size="33" text-anchor="middle">*</text>
<text x="1138.9" y="2100.6" font-size="23.4" text-anchor="middle" textLength="25.6" lengthAdjust="spacingAndGlyphs" stroke="#231f20" stroke-width="0.35">##</text>
<text x="963.51" y="2279" font-size="27.6" textLength="40.44" lengthAdjust="spacingAndGlyphs">Pre</text>
<text x="1111.1" y="2279" font-size="27.6" textLength="54.97" lengthAdjust="spacingAndGlyphs">Post</text>
<text font-size="27.4" text-anchor="middle" textLength="348" lengthAdjust="spacingAndGlyphs" transform="translate(786 2081) rotate(-90)">Glucose rate of appearance</text>
<text font-size="27.4" text-anchor="middle" textLength="209" lengthAdjust="spacingAndGlyphs" transform="translate(817.8 2081) rotate(-90)">(µmol kg<tspan font-size="19.5" dy="-12.3">−1</tspan><tspan dy="12.3"> min</tspan><tspan font-size="19.5" dy="-12.3">−1</tspan><tspan dy="12.3">)</tspan></text>
<path d="M1491.4 1395.85V1666.8M1481.4 1666.8H1707.9M1481.4 1396.5H1491.4M1481.4 1464H1491.4M1481.4 1531.5H1491.4M1481.4 1599H1491.4M1553 1666.8V1677.1M1645.9 1666.8V1677.1" fill="none" stroke="#353535" stroke-width="1.3"/>
<text x="1468.89" y="1404.99" font-size="24.6" text-anchor="end" textLength="49.51" lengthAdjust="spacingAndGlyphs">0.20</text>
<text x="1468.84" y="1472.49" font-size="24.6" text-anchor="end" textLength="44.46" lengthAdjust="spacingAndGlyphs">0.15</text>
<text x="1468.81" y="1539.99" font-size="24.6" text-anchor="end" textLength="45.75" lengthAdjust="spacingAndGlyphs">0.10</text>
<text x="1468.95" y="1607.49" font-size="24.6" text-anchor="end" textLength="49.57" lengthAdjust="spacingAndGlyphs">0.05</text>
<text x="1468.98" y="1675.29" font-size="24.6" text-anchor="end" textLength="15.49" lengthAdjust="spacingAndGlyphs">0</text>
<rect x="1523.3" y="1587.8" width="60.2" height="79" fill="#fff" stroke="#353535" stroke-width="1.4"/>
<rect x="1616.8" y="1533.3" width="59" height="133.5" fill="#ed1e79" stroke="#353535" stroke-width="1.4"/>
<path d="M1537.75 1580.2H1568.25M1537.75 1593.5H1568.25M1553 1580.2V1593.5" fill="none" stroke="#353535" stroke-width="1.3"/>
<path d="M1630.65 1517.6H1661.15M1630.65 1546.9H1661.15M1645.9 1517.6V1546.9" fill="none" stroke="#353535" stroke-width="1.3"/>
<circle cx="1552.94" cy="1552.68" r="3.75" fill="#fff" stroke="#231f20" stroke-width="1.5"/>
<circle cx="1552.94" cy="1560.85" r="3.75" fill="#fff" stroke="#231f20" stroke-width="1.5"/>
<circle cx="1526.31" cy="1575.38" r="3.75" fill="#fff" stroke="#231f20" stroke-width="1.5"/>
<circle cx="1580.48" cy="1578.1" r="3.75" fill="#fff" stroke="#231f20" stroke-width="1.5"/>
<circle cx="1580.48" cy="1586.27" r="3.75" fill="#fff" stroke="#231f20" stroke-width="1.5"/>
<circle cx="1544.46" cy="1584.15" r="3.75" fill="#fff" stroke="#231f20" stroke-width="1.5"/>
<circle cx="1561.72" cy="1582.64" r="3.75" fill="#fff" stroke="#231f20" stroke-width="1.5"/>
<circle cx="1561.72" cy="1592.32" r="3.75" fill="#fff" stroke="#231f20" stroke-width="1.5"/>
<circle cx="1544.46" cy="1607.15" r="3.75" fill="#fff" stroke="#231f20" stroke-width="1.5"/>
<circle cx="1561.72" cy="1612" r="3.75" fill="#fff" stroke="#231f20" stroke-width="1.5"/>
<circle cx="1552.94" cy="1620.77" r="3.75" fill="#fff" stroke="#231f20" stroke-width="1.5"/>
<polygon points="1633.28,1443.76 1641.48,1443.76 1637.38,1451.55" fill="#fff" stroke="#231f20" stroke-width="1.5" stroke-linejoin="miter"/>
<polygon points="1650.23,1445.87 1658.43,1445.87 1654.33,1453.66" fill="#fff" stroke="#231f20" stroke-width="1.5" stroke-linejoin="miter"/>
<polygon points="1641.76,1477.96 1649.96,1477.96 1645.86,1485.75" fill="#fff" stroke="#231f20" stroke-width="1.5" stroke-linejoin="miter"/>
<polygon points="1633.28,1500.05 1641.48,1500.05 1637.38,1507.84" fill="#fff" stroke="#231f20" stroke-width="1.5" stroke-linejoin="miter"/>
<polygon points="1650.23,1504.89 1658.43,1504.89 1654.33,1512.68" fill="#fff" stroke="#231f20" stroke-width="1.5" stroke-linejoin="miter"/>
<polygon points="1625.72,1551.5 1633.92,1551.5 1629.82,1559.29" fill="#fff" stroke="#231f20" stroke-width="1.5" stroke-linejoin="miter"/>
<polygon points="1641.76,1550.29 1649.96,1550.29 1645.86,1558.08" fill="#fff" stroke="#231f20" stroke-width="1.5" stroke-linejoin="miter"/>
<polygon points="1658.1,1551.81 1666.3,1551.81 1662.2,1559.6" fill="#fff" stroke="#231f20" stroke-width="1.5" stroke-linejoin="miter"/>
<polygon points="1641.76,1564.82 1649.96,1564.82 1645.86,1572.61" fill="#fff" stroke="#231f20" stroke-width="1.5" stroke-linejoin="miter"/>
<polygon points="1641.76,1573.3 1649.96,1573.3 1645.86,1581.09" fill="#fff" stroke="#231f20" stroke-width="1.5" stroke-linejoin="miter"/>
<polygon points="1633.28,1587.52 1641.48,1587.52 1637.38,1595.31" fill="#fff" stroke="#231f20" stroke-width="1.5" stroke-linejoin="miter"/>
<polygon points="1650.23,1584.49 1658.43,1584.49 1654.33,1592.28" fill="#fff" stroke="#231f20" stroke-width="1.5" stroke-linejoin="miter"/>
<path d="M1553 1431.6V1415.6H1645.9V1431.6" fill="none" stroke="#353535" stroke-width="1.3"/>
<text x="1600.2" y="1420.11" font-size="33" text-anchor="middle" textLength="26.44" lengthAdjust="spacingAndGlyphs">**</text>
<text font-size="26.1" text-anchor="middle" textLength="357" lengthAdjust="spacingAndGlyphs" transform="translate(1319 1531) rotate(-90)">Plasma <tspan font-size="18.5" dy="-11">13</tspan><tspan dy="11">C-labelled glucose</tspan></text>
<text font-size="26.1" text-anchor="middle" textLength="300" lengthAdjust="spacingAndGlyphs" transform="translate(1357.5 1531) rotate(-90)">contents (normalized to</text>
<text font-size="26.1" text-anchor="middle" textLength="177" lengthAdjust="spacingAndGlyphs" transform="translate(1391.8 1528) rotate(-90)">[<tspan font-size="18.5" dy="-11">12</tspan><tspan dy="11">C</tspan><tspan font-size="18.5" dy="6">6</tspan><tspan dy="-6">]glucose)</tspan></text>
<text font-size="28" text-anchor="end" textLength="98" lengthAdjust="spacingAndGlyphs" transform="translate(1563 1698.5) rotate(-45)">Control</text>
<text font-size="28" text-anchor="end" textLength="115" lengthAdjust="spacingAndGlyphs" transform="translate(1655 1698.5) rotate(-45)">L-Pck1KO</text>
<path d="M1491.2 1968.45V2235.6M1481.2 2235.6H1704.9M1481.2 1969.1H1491.2M1481.2 2035.7H1491.2M1481.2 2102.3H1491.2M1481.2 2169H1491.2M1552.3 2235.6V2245.9M1644 2235.6V2245.9" fill="none" stroke="#353535" stroke-width="1.3"/>
<text x="1467.61" y="1977.59" font-size="24.6" text-anchor="end" textLength="35.74" lengthAdjust="spacingAndGlyphs">0.4</text>
<text x="1467.98" y="2044.19" font-size="24.6" text-anchor="end" textLength="35.19" lengthAdjust="spacingAndGlyphs">0.3</text>
<text x="1468.17" y="2110.79" font-size="24.6" text-anchor="end" textLength="35.18" lengthAdjust="spacingAndGlyphs">0.2</text>
<text x="1467.97" y="2177.49" font-size="24.6" text-anchor="end" textLength="31.27" lengthAdjust="spacingAndGlyphs">0.1</text>
<text x="1467.98" y="2244.09" font-size="24.6" text-anchor="end" textLength="15.49" lengthAdjust="spacingAndGlyphs">0</text>
<rect x="1523" y="2178.6" width="59" height="57" fill="#fff" stroke="#353535" stroke-width="1.4"/>
<rect x="1614.7" y="2132.9" width="59" height="102.7" fill="#7dd3f7" stroke="#353535" stroke-width="1.4"/>
<path d="M1537.05 2169.9H1567.55M1537.05 2185H1567.55M1552.3 2169.9V2185" fill="none" stroke="#353535" stroke-width="1.3"/>
<path d="M1628.75 2111.4H1659.25M1628.75 2151.7H1659.25M1644 2111.4V2151.7" fill="none" stroke="#353535" stroke-width="1.3"/>
<circle cx="1552.94" cy="2129" r="3.75" fill="#fff" stroke="#231f20" stroke-width="1.5"/>
<circle cx="1552.94" cy="2154.72" r="3.75" fill="#fff" stroke="#231f20" stroke-width="1.5"/>
<circle cx="1552.94" cy="2166.22" r="3.75" fill="#fff" stroke="#231f20" stroke-width="1.5"/>
<circle cx="1536.6" cy="2176.21" r="3.75" fill="#fff" stroke="#231f20" stroke-width="1.5"/>
<circle cx="1568.68" cy="2176.21" r="3.75" fill="#fff" stroke="#231f20" stroke-width="1.5"/>
<circle cx="1552.94" cy="2178.33" r="3.75" fill="#fff" stroke="#231f20" stroke-width="1.5"/>
<circle cx="1552.94" cy="2186.8" r="3.75" fill="#fff" stroke="#231f20" stroke-width="1.5"/>
<circle cx="1544.46" cy="2199.52" r="3.75" fill="#fff" stroke="#231f20" stroke-width="1.5"/>
<circle cx="1560.81" cy="2200.12" r="3.75" fill="#fff" stroke="#231f20" stroke-width="1.5"/>
<circle cx="1552.94" cy="2210.11" r="3.75" fill="#fff" stroke="#231f20" stroke-width="1.5"/>
<polygon points="1639.94,2006.68 1648.14,2006.68 1644.04,1998.89" fill="#fff" stroke="#231f20" stroke-width="1.5" stroke-linejoin="miter"/>
<polygon points="1639.94,2053.29 1648.14,2053.29 1644.04,2045.5" fill="#fff" stroke="#231f20" stroke-width="1.5" stroke-linejoin="miter"/>
<polygon points="1623.6,2120.78 1631.8,2120.78 1627.7,2112.99" fill="#fff" stroke="#231f20" stroke-width="1.5" stroke-linejoin="miter"/>
<polygon points="1639.94,2127.14 1648.14,2127.14 1644.04,2119.35" fill="#fff" stroke="#231f20" stroke-width="1.5" stroke-linejoin="miter"/>
<polygon points="1639.94,2138.94 1648.14,2138.94 1644.04,2131.15" fill="#fff" stroke="#231f20" stroke-width="1.5" stroke-linejoin="miter"/>
<polygon points="1639.94,2151.35 1648.14,2151.35 1644.04,2143.56" fill="#fff" stroke="#231f20" stroke-width="1.5" stroke-linejoin="miter"/>
<polygon points="1623.6,2184.04 1631.8,2184.04 1627.7,2176.25" fill="#fff" stroke="#231f20" stroke-width="1.5" stroke-linejoin="miter"/>
<polygon points="1656.28,2184.65 1664.48,2184.65 1660.38,2176.86" fill="#fff" stroke="#231f20" stroke-width="1.5" stroke-linejoin="miter"/>
<polygon points="1639.94,2191.3 1648.14,2191.3 1644.04,2183.51" fill="#fff" stroke="#231f20" stroke-width="1.5" stroke-linejoin="miter"/>
<polygon points="1639.94,2201.29 1648.14,2201.29 1644.04,2193.5" fill="#fff" stroke="#231f20" stroke-width="1.5" stroke-linejoin="miter"/>
<path d="M1552.3 1986.1V1971H1644V1986.1" fill="none" stroke="#353535" stroke-width="1.3"/>
<text x="1598.6" y="1976.41" font-size="33" text-anchor="middle">*</text>
<text font-size="26.1" text-anchor="middle" textLength="359" lengthAdjust="spacingAndGlyphs" transform="translate(1337 2102) rotate(-90)">Plasma <tspan font-size="18.5" dy="-11">13</tspan><tspan dy="11">C-labelled glucose</tspan></text>
<text font-size="26.1" text-anchor="middle" textLength="302.7" lengthAdjust="spacingAndGlyphs" transform="translate(1373.8 2101) rotate(-90)">contents (normalized to</text>
<text font-size="26.1" text-anchor="middle" textLength="180" lengthAdjust="spacingAndGlyphs" transform="translate(1410.1 2098) rotate(-90)">[<tspan font-size="18.5" dy="-11">12</tspan><tspan dy="11">C</tspan><tspan font-size="18.5" dy="6">6</tspan><tspan dy="-6">]glucose)</tspan></text>
<text font-size="28" text-anchor="end" textLength="98" lengthAdjust="spacingAndGlyphs" transform="translate(1560 2266.5) rotate(-45)">Control</text>
<text font-size="28" text-anchor="end" textLength="108" lengthAdjust="spacingAndGlyphs" transform="translate(1653 2266.5) rotate(-45)">L-GykKO</text>
<text x="302.8" y="1308.9" font-size="28" textLength="197" lengthAdjust="spacingAndGlyphs">Blood sampling</text>
<text x="302.8" y="1342.9" font-size="28" textLength="73.3" lengthAdjust="spacingAndGlyphs">(<tspan font-style="italic">t</tspan><tspan font-size="20" dy="7.5">0</tspan><tspan dy="-7.5">–</tspan><tspan font-style="italic">t</tspan><tspan font-size="20" dy="7.5">4</tspan><tspan dy="-7.5">)</tspan></text>
<text x="-1.5" y="1383.8" font-size="28" textLength="202.5" lengthAdjust="spacingAndGlyphs">Isotope infusion</text>
<g transform="translate(195 1480) scale(0.2179)">
<path d="M300 72H1592V268M48 125L300 72V268M1390 125L1592 72" fill="none" stroke="#b4b4b4" stroke-width="4"/>
<polygon points="35,332 275,266 1588,266 1588,282 1458,332" fill="#58595b"/>
<polygon points="70,328 290,276 500,282 345,328" fill="#d6d6d6"/>
<path d="M345 328L500 283H1490Q1530 290 1525 308Q1500 328 1440 330Z" fill="#a5cbde"/>
<polygon points="575,268 735,262 740,274 580,276" fill="#aaa8a7"/>
<rect x="35" y="330" width="1422" height="82" fill="#58595b"/>
<polygon points="1457,330 1588,270 1588,350 1457,412" fill="#48494b"/>
<rect x="920" y="336" width="320" height="76" fill="#adaaa9"/>
<rect x="448" y="336" width="52" height="76" fill="#adaaa9"/>
<polygon points="915,412 1157,412 1157,545 915,628" fill="#505153"/>
<polygon points="928,418 1145,418 1145,538 928,612" fill="#626365"/>
<polygon points="928,540 1145,528 1145,538 928,612" fill="#58595b"/>
<rect x="497" y="340" width="418" height="288" fill="#5d5e60"/>
<ellipse cx="572" cy="412" rx="33" ry="20" fill="#e4e4e4"/>
<polygon points="250,348 452,348 458,440 385,502 250,502" fill="#b6b4b3" stroke="#8c8a89" stroke-width="4"/>
<polygon points="283,385 353,385 378,462 263,462" fill="#c9c8c7" stroke="#8c8a89" stroke-width="3"/>
<ellipse cx="318" cy="385" rx="35" ry="20" fill="#e2e2e2" stroke="#9a9a9a" stroke-width="3"/>
<ellipse cx="320" cy="462" rx="57" ry="36" fill="#dedede" stroke="#9a9a9a" stroke-width="3"/>
<polygon points="385,462 748,510 735,548 375,496" fill="#a19f9e"/>
<path d="M385 464L748 512" stroke="#c9c7c6" stroke-width="5" fill="none"/>
<ellipse cx="722" cy="530" rx="30" ry="17" fill="#6e6f71" stroke="#c4c4c4" stroke-width="4" transform="rotate(-12 722 530)"/>
<path d="M692 70Q740 190 885 222" fill="none" stroke="#c39087" stroke-width="11" stroke-linecap="round"/>
<path d="M862 285L828 340L842 345L878 300Z" fill="#d2a097"/>
<path d="M985 305L1000 338L1042 344L1040 334L1012 326L1008 305Z" fill="#d2a097"/>
<path d="M1068 300L1080 338L1098 340L1088 305Z" fill="#d2a097"/>
<path d="M1158 298L1188 326L1200 318L1180 298Z" fill="#d2a097"/>
<path d="M870 262Q880 200 935 160Q990 130 1060 140Q1100 135 1130 150L1135 125L1160 135L1165 145Q1205 150 1232 178Q1238 190 1228 198Q1200 212 1175 215Q1160 240 1150 262L1170 295L1160 306L1120 285Q1100 275 1085 278L1075 305L1060 300L1062 268Q1030 268 1010 262L1015 300L995 312L965 272Q930 285 900 280L870 292Z" fill="#4a4240"/>
<path d="M1118 150Q1128 138 1142 150Q1146 170 1135 182Q1120 172 1118 150Z" fill="#cf9a93"/>
<circle cx="1186" cy="167" r="5.5" fill="#111"/>
<path d="M1232 165L1250 150M1232 168L1252 160" stroke="#bbb" stroke-width="2" fill="none"/>
<path d="M48 125H1390V330M48 125V330M1390 330L1592 268" fill="none" stroke="#b4b4b4" stroke-width="4"/>
</g>
<path d="M224 1409Q232 1410 240 1413C290 1424 340 1433 380 1430.5C400 1429.5 415 1427.5 426.5 1427.4" fill="none" stroke="#111" stroke-width="1.3"/>
<path d="M426.5 1444.8C408 1457 394 1466 391.3 1476C388 1490 410 1502 435.5 1512" fill="none" stroke="#111" stroke-width="1.3"/>
<g transform="translate(380 1310) scale(0.09945)">
<rect x="540" y="122" width="60" height="250" fill="#e9e9e9" stroke="#9b9b9b" stroke-width="8"/>
<ellipse cx="570" cy="120" rx="56" ry="15" fill="#dcdcdc" stroke="#9b9b9b" stroke-width="6"/>
<rect x="525" y="375" width="85" height="378" fill="#f4f4f4" stroke="#7d7d7d" stroke-width="9"/>
<rect x="530" y="570" width="75" height="180" fill="#bfe0f1"/>
<rect x="546" y="752" width="44" height="38" fill="#d9d9d9" stroke="#7d7d7d" stroke-width="7"/>
<ellipse cx="565" cy="368" rx="100" ry="17" fill="#fff" stroke="#8d8d8d" stroke-width="7"/>
<rect x="540" y="352" width="60" height="30" fill="#e9e9e9"/>
</g>
<line x1="436.4" y1="1358.7" x2="436.4" y2="1515" stroke="#c4161c" stroke-width="2.9" stroke-linecap="round"/>
<rect x="427.3" y="1417" width="17.2" height="39.6" fill="#eaf1fb" stroke="#8fa5d9" stroke-width="2.3"/>
<g transform="translate(95 1380) scale(0.09685)">
<rect x="90" y="140" width="75" height="465" rx="14" fill="#4b5f6b"/>
<rect x="75" y="465" width="50" height="60" rx="12" fill="#5f7480"/>
<rect x="148" y="116" width="124" height="536" rx="16" fill="#6d828e"/>
<rect x="185" y="116" width="50" height="536" fill="#7b909b"/>
<rect x="262" y="420" width="48" height="185" rx="10" fill="#5f7480"/>
<rect x="305" y="450" width="100" height="120" fill="#8f9497"/>
<rect x="305" y="490" width="100" height="30" fill="#c0c4c6"/>
<path d="M280 260Q300 230 390 228V348Q300 345 280 310Z" fill="#ececec" stroke="#cfcfcf" stroke-width="4"/>
<rect x="382" y="135" width="22" height="245" fill="#f1f1f1" stroke="#c8c8c8" stroke-width="4"/>
<rect x="405" y="228" width="395" height="128" fill="#dcdddf" stroke="#bdbdbd" stroke-width="4"/>
<rect x="405" y="300" width="395" height="56" fill="#cfd0d2"/>
<path d="M420 210V128H1280Q1395 135 1400 300H1362Q1360 170 1280 166H580V210H545V166H455V210Z" fill="#c9c0b1" stroke="#b3aa9b" stroke-width="4"/>
<rect x="420" y="125" width="36" height="88" rx="10" fill="#f3f1ec"/>
<rect x="545" y="125" width="36" height="88" rx="10" fill="#f3f1ec"/>
<path d="M470 150Q498 135 526 150V280H508V250H488V280H470Z" fill="#566b77"/>
<rect x="785" y="218" width="32" height="152" fill="#3c4043"/>
<path d="M817 226H880L935 275H1050V300H935L900 358H817Z" fill="#aab8dc"/>
<path d="M1050 288Q1150 290 1290 325" fill="none" stroke="#a3b4dc" stroke-width="10"/>
<rect x="1305" y="312" width="70" height="34" rx="6" fill="#e6e6e6" stroke="#bdbdbd" stroke-width="4"/>
<polygon points="1280,284 1310,278 1300,300" fill="#111"/>
<polygon points="405,372 1430,364 1468,952 385,952" fill="#e5e3dd" stroke="#cfcdc6" stroke-width="5"/>
<polygon points="432,420 1400,420 1426,912 420,912" fill="#d3ebf9"/>
<rect x="372" y="950" width="1103" height="82" rx="10" fill="#4d626d"/>
<rect x="410" y="966" width="1036" height="10" fill="#7e929c"/>
<rect x="650" y="540" width="630" height="282" rx="8" fill="#5a7161"/>
<polygon points="650,540 1280,540 1280,822" fill="#5f7666"/>
<rect x="758" y="455" width="67" height="68" rx="14" fill="#d1453d"/>
<rect x="852" y="455" width="66" height="68" rx="14" fill="#5db870"/>
<rect x="950" y="455" width="63" height="68" rx="8" fill="#47539e"/>
<ellipse cx="485" cy="563" rx="20" ry="29" fill="#3f4fa0"/>
<ellipse cx="485" cy="633" rx="20" ry="29" fill="#3f4fa0"/>
<ellipse cx="485" cy="703" rx="20" ry="29" fill="#3f4fa0"/>
<ellipse cx="485" cy="780" rx="20" ry="29" fill="#3f4fa0"/>
<ellipse cx="537" cy="563" rx="20" ry="29" fill="#3f4fa0"/>
<ellipse cx="537" cy="633" rx="20" ry="29" fill="#3f4fa0"/>
<ellipse cx="537" cy="703" rx="20" ry="29" fill="#3f4fa0"/>
<ellipse cx="537" cy="780" rx="20" ry="29" fill="#3f4fa0"/>
<ellipse cx="590" cy="563" rx="20" ry="29" fill="#3f4fa0"/>
<ellipse cx="590" cy="633" rx="20" ry="29" fill="#3f4fa0"/>
<ellipse cx="590" cy="703" rx="20" ry="29" fill="#3f4fa0"/>
<ellipse cx="590" cy="780" rx="20" ry="29" fill="#3f4fa0"/>
<ellipse cx="1345" cy="527" rx="33" ry="17" fill="#3f4fa0"/>
<ellipse cx="1345" cy="665" rx="33" ry="17" fill="#3f4fa0"/>
<ellipse cx="1345" cy="720" rx="33" ry="19" fill="#3f4fa0"/>
<ellipse cx="1345" cy="795" rx="25" ry="40" fill="#3f4fa0"/>
<ellipse cx="740" cy="862" rx="38" ry="24" fill="#dda354"/>
<ellipse cx="890" cy="862" rx="38" ry="24" fill="#dda354"/>
<ellipse cx="1040" cy="862" rx="38" ry="24" fill="#dda354"/>
<ellipse cx="1190" cy="862" rx="38" ry="24" fill="#dda354"/>
</g>
<text x="389.3" y="1655" font-size="27.5" textLength="40.5" lengthAdjust="spacingAndGlyphs">Pre</text>
<text x="595.2" y="1655" font-size="27.5" textLength="53" lengthAdjust="spacingAndGlyphs">Post</text>
<path d="M366.5 1683V1670.9H454.9V1683M410.8 1661.8V1670.9" fill="none" stroke="#333" stroke-width="1.3"/>
<path d="M578.8 1683V1670.9H667.4V1683M622.9 1661.8V1670.9" fill="none" stroke="#333" stroke-width="1.3"/>
<text x="13.3" y="1699.7" font-size="27.5"><tspan font-style="italic">t</tspan><tspan font-size="20.5" dy="8.3" dx="1.6">0</tspan></text>
<text x="376.8" y="1699.7" font-size="27.5"><tspan font-style="italic">t</tspan><tspan font-size="20.5" dy="8.3" dx="1.6">1</tspan></text>
<text x="422.6" y="1699.7" font-size="27.5"><tspan font-style="italic">t</tspan><tspan font-size="20.5" dy="8.3" dx="1.6">2</tspan></text>
<text x="587.8" y="1699.7" font-size="27.5"><tspan font-style="italic">t</tspan><tspan font-size="20.5" dy="8.3" dx="1.6">3</tspan></text>
<text x="634.5" y="1699.7" font-size="27.5"><tspan font-style="italic">t</tspan><tspan font-size="20.5" dy="8.3" dx="1.6">4</tspan></text>
<line x1="8.5" y1="1713.8" x2="684.7" y2="1713.8" stroke="#231f20" stroke-width="2.1"/>
<rect x="22.1" y="1721.4" width="455.3" height="32.8" fill="#f3f6fb" stroke="#7789b9" stroke-width="2.7"/>
<rect x="481.5" y="1721.6" width="177.7" height="33" fill="#f3f6fb" stroke="#7789b9" stroke-width="2.7"/>
<text x="180.3" y="1748.6" font-size="28" textLength="129.5" lengthAdjust="spacingAndGlyphs">Sedentary</text>
<text x="506.7" y="1748.6" font-size="28" textLength="106.5" lengthAdjust="spacingAndGlyphs">Exercise</text>
<path d="M14.6 1780.5H10.4Q8.4 1780.5 8.4 1782.5V1891Q8.4 1893 10.4 1893H355" fill="none" stroke="#231f20" stroke-width="3.6" stroke-dasharray="6.1 5.5"/>
<path d="M692.3 1780.5H700.5Q702.5 1780.5 702.5 1782.5V1891Q702.5 1893 700.5 1893H355" fill="none" stroke="#231f20" stroke-width="3.6" stroke-dasharray="6.1 5.5"/>
<path d="M12.4 1946.9H8Q6 1946.9 6 1948.9V2057Q6 2059 8 2059H355" fill="none" stroke="#231f20" stroke-width="3.6" stroke-dasharray="6.1 5.5"/>
<path d="M678.6 1946.9H698Q700 1946.9 700 1948.9V2057Q700 2059 698 2059H355" fill="none" stroke="#231f20" stroke-width="3.6" stroke-dasharray="6.1 5.5"/>
<line x1="671.4" y1="1946.9" x2="672.6" y2="1946.9" stroke="#231f20" stroke-width="3.9"/>
<text x="104.7" y="1791.2" font-size="28.3" textLength="186.5" lengthAdjust="spacingAndGlyphs" fill="#e6248b">L-Pck1KO mice</text>
<text x="291.6" y="1791.2" font-size="28.3">,</text>
<text x="305.7" y="1791.2" font-size="28.3" textLength="289.5" lengthAdjust="spacingAndGlyphs" fill="#3e5ca8">Low-intenisity exercise</text>
<text x="103.3" y="1951.4" font-size="28.3" textLength="180.5" lengthAdjust="spacingAndGlyphs" fill="#2aaae1">L-GykKO mice</text>
<text x="284.5" y="1951.4" font-size="28.3">,</text>
<text x="297.5" y="1951.4" font-size="28.3" textLength="298.5" lengthAdjust="spacingAndGlyphs" fill="#f26a36">High-intenisity exercise</text>
<text x="363.6" y="1917.5" font-size="28.5" text-anchor="middle" textLength="25.5" lengthAdjust="spacingAndGlyphs">or</text>
<rect x="42.2" y="1802.6" width="617.4" height="33.5" fill="#231f20" stroke="#8ea2d6" stroke-width="2.4"/>
<text x="262.2" y="1828.7" font-size="25.5" fill="#fff" textLength="175.3" lengthAdjust="spacingAndGlyphs">[6,6-<tspan font-size="15.5" dy="-12.5">2</tspan><tspan dy="12.5">H</tspan><tspan font-size="15.5" dy="8">2</tspan><tspan dy="-8">]glucose</tspan></text>
<rect x="42.2" y="1842.1" width="617.4" height="33.6" fill="#0db4e9" stroke="#8ea2d6" stroke-width="2.4"/>
<text x="280.2" y="1867" font-size="25.5" fill="#fff" textLength="140.3" lengthAdjust="spacingAndGlyphs">[<tspan font-size="15.5" dy="-12.5">13</tspan><tspan dy="12.5">C</tspan><tspan font-size="15.5" dy="8">3</tspan><tspan dy="-8">]glucose</tspan></text>
<rect x="42.2" y="1971.2" width="617.4" height="33.6" fill="#231f20" stroke="#8ea2d6" stroke-width="2.4"/>
<text x="262.2" y="1996" font-size="25.5" fill="#fff" textLength="175.3" lengthAdjust="spacingAndGlyphs">[6,6-<tspan font-size="15.5" dy="-12.5">2</tspan><tspan dy="12.5">H</tspan><tspan font-size="15.5" dy="8">2</tspan><tspan dy="-8">]glucose</tspan></text>
<rect x="42.2" y="2010.7" width="617.4" height="33.6" fill="#eb168c" stroke="#8ea2d6" stroke-width="2.4"/>
<text x="285.5" y="2037.3" font-size="25.5" fill="#fff" textLength="129.1" lengthAdjust="spacingAndGlyphs">[<tspan font-size="15.5" dy="-12.5">13</tspan><tspan dy="12.5">C</tspan><tspan font-size="15.5" dy="8">3</tspan><tspan dy="-8">]lactate</tspan></text>
</g>
</svg>
</body></html>
